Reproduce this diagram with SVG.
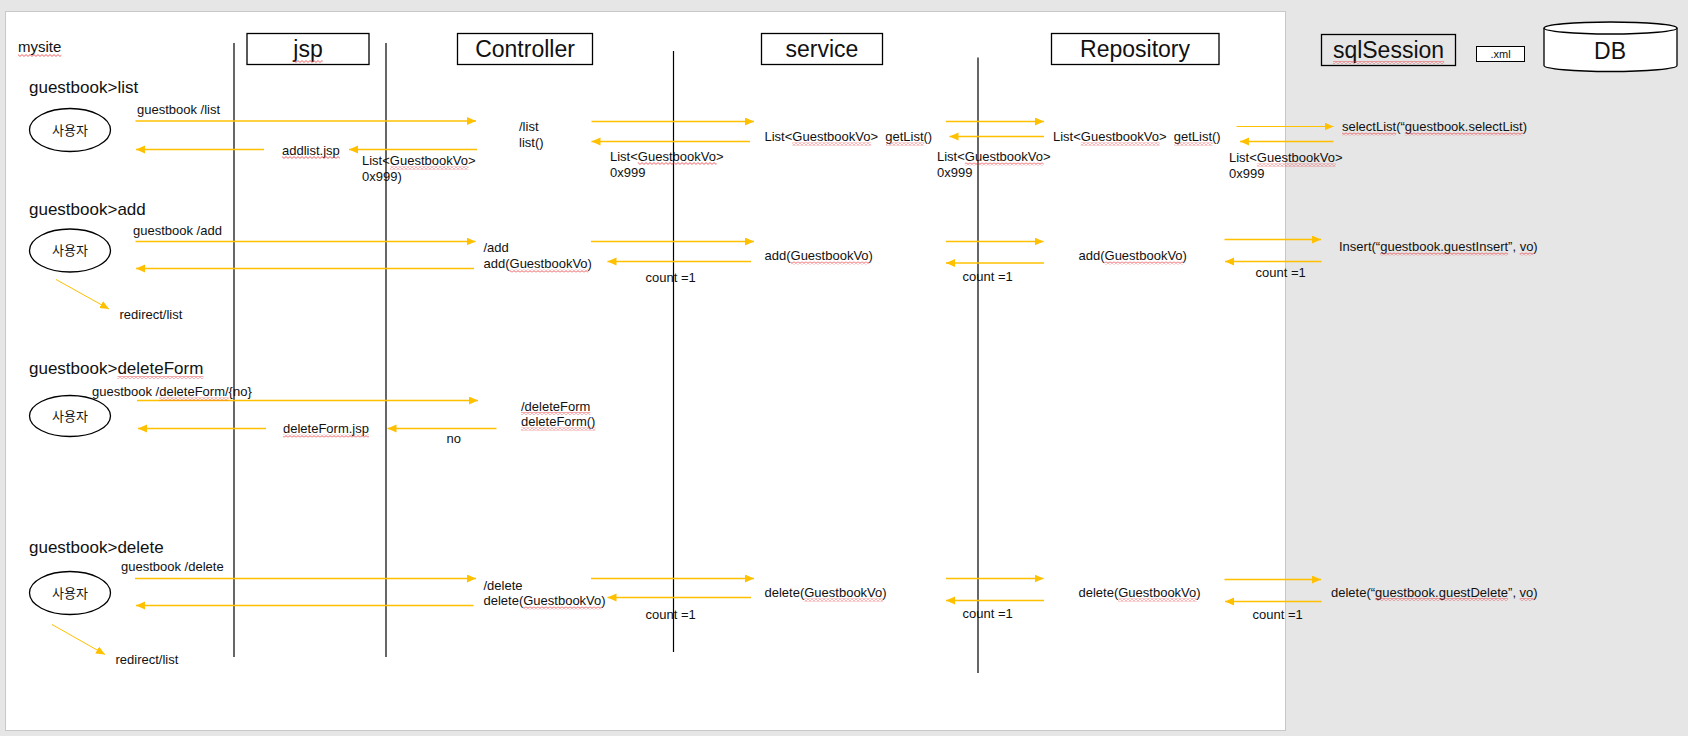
<svg xmlns="http://www.w3.org/2000/svg" width="1688" height="736" viewBox="0 0 1688 736">
<defs>
<marker id="ah" markerUnits="userSpaceOnUse" markerWidth="10" markerHeight="9" refX="9" refY="4" orient="auto">
<path d="M0,0 L9,4 L0,8 Z" fill="#FFC000"/>
</marker>
<pattern id="wave" patternUnits="userSpaceOnUse" x="0" y="0" width="4" height="3">
<path d="M0,2.4 L2,0.6 L4,2.4" fill="none" stroke="#e8383d" stroke-width="0.8"/>
</pattern>
<style>
text{font-family:"Liberation Sans","Noto Sans CJK KR",sans-serif;fill:#111;}
.s{font-size:13px;}
.t{font-size:17px;}
.h{font-size:23px;}
.box{fill:#fff;stroke:#000;stroke-width:1.3;}
.life{stroke:#000;stroke-width:1.2;fill:none;}
.ar{stroke:#FFC000;stroke-width:1.5;fill:none;marker-end:url(#ah);}
.thin{stroke-width:1;}
.actor{fill:#fff;stroke:#000;stroke-width:1.3;}
.w{fill:url(#wave);}
</style>
</defs>
<rect x="0" y="0" width="1688" height="736" fill="#e6e6e6"/>
<rect x="5.5" y="11.5" width="1280" height="719" fill="#fff" stroke="#c8c8c8" stroke-width="1"/>
<text x="18" y="52" style="font-size:15px">mysite</text>

<g id="jsp">
<line class="life" x1="234" y1="43" x2="234" y2="657"/>
<rect class="box" x="247" y="33.5" width="122" height="31"/>
<text class="h" x="308" y="57" text-anchor="middle">jsp</text>
</g>
<g id="controller">
<line class="life" x1="386" y1="43" x2="386" y2="657"/>
<rect class="box" x="457.5" y="33.5" width="135" height="31"/>
<text class="h" x="525" y="57" text-anchor="middle">Controller</text>
</g>
<g id="service">
<line class="life" x1="673.5" y1="51" x2="673.5" y2="652"/>
<rect class="box" x="761.5" y="33.5" width="121" height="31"/>
<text class="h" x="822" y="57" text-anchor="middle">service</text>
</g>
<g id="repository">
<line class="life" x1="978" y1="57.5" x2="978" y2="673"/>
<rect class="box" x="1051.5" y="33.5" width="167.5" height="31"/>
<text class="h" x="1135" y="57" text-anchor="middle">Repository</text>
</g>
<g id="sqlSession">
<rect x="1321.5" y="34.5" width="134" height="31" fill="none" stroke="#000" stroke-width="1.3"/>
<text class="h" x="1388.5" y="58" text-anchor="middle">sqlSession</text>
</g>
<g id="xml">
<rect x="1476.5" y="46.5" width="48" height="15" fill="#fff" stroke="#000" stroke-width="1"/>
<text x="1500.5" y="58" text-anchor="middle" style="font-size:11px">.xml</text>
</g>
<g id="db">
<path d="M1544,28 L1544,65.5 A66.5,6 0 0 0 1677,65.5 L1677,28 A66.5,6 0 0 0 1544,28 Z" fill="#fff" stroke="#000" stroke-width="1.3"/>
<path d="M1544,28 A66.5,6 0 0 0 1677,28" fill="none" stroke="#000" stroke-width="1.3"/>
<text class="h" x="1610" y="59" text-anchor="middle">DB</text>
</g>

<g id="titles">
<text class="t" x="29" y="93">guestbook&gt;list</text>
<text class="t" x="29" y="215">guestbook&gt;add</text>
<text class="t" x="29" y="374">guestbook&gt;deleteForm</text>
<text class="t" x="29" y="553">guestbook&gt;delete</text>
</g>

<g id="user1"><ellipse class="actor" cx="70" cy="130" rx="40.5" ry="21.5"/><text class="s" x="70" y="134.5" text-anchor="middle">사용자</text></g>
<g id="user2"><ellipse class="actor" cx="70" cy="250.5" rx="40.5" ry="21.5"/><text class="s" x="70" y="255" text-anchor="middle">사용자</text></g>
<g id="user3"><ellipse class="actor" cx="70" cy="416" rx="40.5" ry="20.5"/><text class="s" x="70" y="420.5" text-anchor="middle">사용자</text></g>
<g id="user4"><ellipse class="actor" cx="70" cy="593" rx="40.5" ry="21.5"/><text class="s" x="70" y="597.5" text-anchor="middle">사용자</text></g>

<g id="connectors">
<line class="ar" x1="135.5" y1="121" x2="476" y2="121"/>
<line class="ar" x1="264" y1="149.5" x2="136" y2="149.5"/>
<line class="ar" x1="477" y1="149.5" x2="349" y2="149.5"/>
<line class="ar" x1="591.5" y1="121.5" x2="754" y2="121.5"/>
<line class="ar" x1="750" y1="141.5" x2="591.5" y2="141.5"/>
<line class="ar" x1="946" y1="121.5" x2="1044" y2="121.5"/>
<line class="ar" x1="1044" y1="136.5" x2="949.5" y2="136.5"/>
<line class="ar thin" x1="1236.5" y1="126.5" x2="1333.5" y2="126.5"/>
<line class="ar" x1="1333.5" y1="141.5" x2="1240" y2="141.5"/>

<line class="ar" x1="135.5" y1="241.5" x2="475.5" y2="241.5"/>
<line class="ar" x1="474" y1="268.5" x2="136" y2="268.5"/>
<line class="ar thin" x1="56" y1="279.5" x2="109" y2="309"/>
<line class="ar" x1="591" y1="241.5" x2="754" y2="241.5"/>
<line class="ar" x1="751" y1="261.5" x2="607.5" y2="261.5"/>
<line class="ar" x1="946" y1="241.5" x2="1043.5" y2="241.5"/>
<line class="ar" x1="1044" y1="263" x2="946" y2="263"/>
<line class="ar" x1="1224.5" y1="239.5" x2="1321" y2="239.5"/>
<line class="ar" x1="1321.5" y1="261.5" x2="1225" y2="261.5"/>

<line class="ar" x1="137" y1="400.5" x2="478" y2="400.5"/>
<line class="ar" x1="266" y1="428.5" x2="138" y2="428.5"/>
<line class="ar" x1="496.5" y1="428.5" x2="387.5" y2="428.5"/>

<line class="ar" x1="135" y1="578.5" x2="476" y2="578.5"/>
<line class="ar" x1="473.5" y1="605.5" x2="136" y2="605.5"/>
<line class="ar thin" x1="52" y1="624.5" x2="105" y2="654.5"/>
<line class="ar" x1="591" y1="578.5" x2="754" y2="578.5"/>
<line class="ar" x1="751" y1="597.5" x2="607.5" y2="597.5"/>
<line class="ar" x1="946" y1="578.5" x2="1043.5" y2="578.5"/>
<line class="ar" x1="1044" y1="600.5" x2="946" y2="600.5"/>
<line class="ar" x1="1224.5" y1="579.5" x2="1321" y2="579.5"/>
<line class="ar" x1="1321.5" y1="601.5" x2="1225" y2="601.5"/>

<text class="s" x="137" y="114">guestbook /list</text>
<text class="s" x="282" y="154.5">addlist.jsp</text>
<text class="s" x="362" y="165">List&lt;GuestbookVo&gt;</text>
<text class="s" x="362" y="181">0x999)</text>
<text class="s" x="519" y="131">/list</text>
<text class="s" x="519" y="147">list()</text>
<text class="s" x="610" y="160.5">List&lt;GuestbookVo&gt;</text>
<text class="s" x="610" y="177">0x999</text>
<text class="s" x="764.5" y="141" xml:space="preserve">List&lt;GuestbookVo&gt;  getList()</text>
<text class="s" x="937" y="161">List&lt;GuestbookVo&gt;</text>
<text class="s" x="937" y="177">0x999</text>
<text class="s" x="1053" y="141" xml:space="preserve">List&lt;GuestbookVo&gt;  getList()</text>
<text class="s" x="1342" y="131">selectList(“guestbook.selectList)</text>
<text class="s" x="1229" y="162">List&lt;GuestbookVo&gt;</text>
<text class="s" x="1229" y="178">0x999</text>

<text class="s" x="133" y="234.5">guestbook /add</text>
<text class="s" x="119.5" y="319">redirect/list</text>
<text class="s" x="483.5" y="252">/add</text>
<text class="s" x="483.5" y="268">add(GuestbookVo)</text>
<text class="s" x="645.5" y="282">count =1</text>
<text class="s" x="764.5" y="260">add(GuestbookVo)</text>
<text class="s" x="962.5" y="281">count =1</text>
<text class="s" x="1078.5" y="260">add(GuestbookVo)</text>
<text class="s" x="1339" y="251">Insert(“guestbook.guestInsert”, vo)</text>
<text class="s" x="1255.5" y="277">count =1</text>

<text class="s" x="92" y="396">guestbook /deleteForm/{no}</text>
<text class="s" x="283" y="433">deleteForm.jsp</text>
<text class="s" x="446.5" y="442.5">no</text>
<text class="s" x="521" y="410.5">/deleteForm</text>
<text class="s" x="521" y="426">deleteForm()</text>

<text class="s" x="121" y="571">guestbook /delete</text>
<text class="s" x="115.5" y="664">redirect/list</text>
<text class="s" x="483.5" y="589.5">/delete</text>
<text class="s" x="483.5" y="605">delete(GuestbookVo)</text>
<text class="s" x="645.5" y="619">count =1</text>
<text class="s" x="764.5" y="597">delete(GuestbookVo)</text>
<text class="s" x="962.5" y="618">count =1</text>
<text class="s" x="1078.5" y="597">delete(GuestbookVo)</text>
<text class="s" x="1331" y="596.5">delete(“guestbook.guestDelete”, vo)</text>
<text class="s" x="1252.5" y="619">count =1</text>
</g>

<g id="spellcheck">
<rect class="w" x="18" y="54" width="43.3" height="3"/>
<rect class="w" x="293.3" y="60" width="29.4" height="3"/>
<rect class="w" x="1333" y="61" width="111.2" height="3"/>
<rect class="w" x="117.4" y="376" width="86" height="3"/>
<rect class="w" x="282" y="156" width="57.8" height="3"/>
<rect class="w" x="389.8" y="166.5" width="78.8" height="3"/>
<rect class="w" x="637.8" y="162" width="78.8" height="3"/>
<rect class="w" x="792.3" y="142.5" width="78.8" height="3"/>
<rect class="w" x="964.8" y="162.5" width="78.8" height="3"/>
<rect class="w" x="1080.8" y="142.5" width="78.8" height="3"/>
<rect class="w" x="1256.8" y="163.5" width="78.8" height="3"/>
<rect class="w" x="885.9" y="142.5" width="38.3" height="3"/>
<rect class="w" x="1174.4" y="142.5" width="38.3" height="3"/>
<rect class="w" x="1342" y="132.5" width="54.2" height="3"/>
<rect class="w" x="1404.9" y="132.5" width="117.8" height="3"/>
<rect class="w" x="509.5" y="269.5" width="78.8" height="3"/>
<rect class="w" x="790.5" y="261.5" width="78.8" height="3"/>
<rect class="w" x="1104.5" y="261.5" width="78.8" height="3"/>
<rect class="w" x="1380.2" y="252.5" width="127.9" height="3"/>
<rect class="w" x="1519.7" y="252.5" width="13.7" height="3"/>
<rect class="w" x="159.2" y="397.5" width="69.4" height="3"/>
<rect class="w" x="283" y="434.5" width="86" height="3"/>
<rect class="w" x="521" y="412" width="69.4" height="3"/>
<rect class="w" x="521" y="427.5" width="74.4" height="3"/>
<rect class="w" x="523.2" y="606.5" width="78.8" height="3"/>
<rect class="w" x="804.2" y="598.5" width="78.8" height="3"/>
<rect class="w" x="1118.2" y="598.5" width="78.8" height="3"/>
<rect class="w" x="1375.1" y="598" width="133" height="3"/>
<rect class="w" x="1519.7" y="598" width="13.7" height="3"/>
</g>
</svg>
